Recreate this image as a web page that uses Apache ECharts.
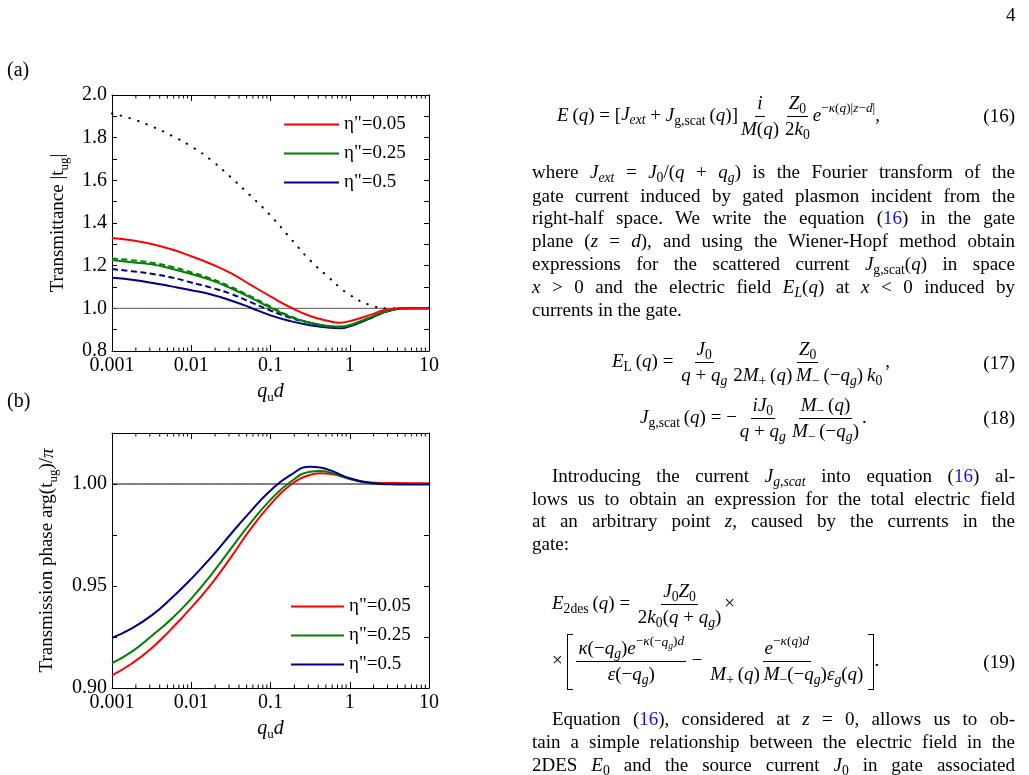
<!DOCTYPE html>
<html>
<head>
<meta charset="utf-8">
<script src="https://cdn.jsdelivr.net/npm/echarts@6/dist/echarts.min.js"></script>
<style>
html,body{margin:0;padding:0;background:#fff;}
#page{position:relative;width:1029px;height:775px;overflow:hidden;}
#chart{position:absolute;left:0;top:0;width:1029px;height:775px;}
.tx{position:absolute;font-family:"Liberation Serif",serif;color:#000;z-index:2;}
.ln{left:532px;width:483px;font-size:19px;line-height:23px;height:23px;text-align:justify;text-align-last:justify;white-space:normal;}
.ln.last{text-align-last:left;}
.ind{text-indent:20px;}
sub{font-size:0.72em;line-height:0;vertical-align:-0.3em;}
sup{font-size:0.7em;line-height:0;vertical-align:0.65em;}
.ref{color:#1010ee;}
.eq{left:532px;width:483px;height:70px;display:flex;align-items:center;font-size:19px;white-space:nowrap;}
.eq .num{margin-left:auto;}
.fr{display:inline-flex;flex-direction:column;align-items:center;vertical-align:middle;line-height:1.2;margin:0 1px;}
.fr>span:first-child{border-bottom:1.3px solid #000;padding:0 2px 1px;}
.fr>span:last-child{padding:1px 2px 0;}
.bl,.br{display:inline-block;width:5px;height:54px;border:1.3px solid #000;vertical-align:middle;}
.bl{border-right:none;margin-right:2px;}
.br{border-left:none;margin-left:2px;}
</style>
</head>
<body>
<div id="page">
<div id="chart"></div>

<div class="tx" style="left:1006px;top:4px;font-size:19px;">4</div>

<!-- (16) -->
<div class="tx eq" style="top:81px;"><span style="padding-left:25px;"><i>E</i>&thinsp;(<i>q</i>) = [<i>J<sub>ext</sub></i> + <i>J</i><sub>g,scat</sub>&thinsp;(<i>q</i>)]<span class="fr"><span><i>i</i></span><span><i>M</i>(<i>q</i>)</span></span><span class="fr"><span><i>Z</i><sub>0</sub></span><span>2<i>k</i><sub>0</sub></span></span><i>e</i><sup>&minus;<i>κ</i>(<i>q</i>)|<i>z</i>&minus;<i>d</i>|</sup>,</span><span class="num">(16)</span></div>

<div class="tx ln" style="top:160px;">where <i>J<sub>ext</sub></i> = <i>J</i><sub>0</sub>/(<i>q</i> + <i>q<sub>g</sub></i>) is the Fourier transform of the</div>
<div class="tx ln" style="top:183.5px;">gate current induced by gated plasmon incident from the</div>
<div class="tx ln" style="top:206px;">right-half space. We write the equation (<span class="ref">16</span>) in the gate</div>
<div class="tx ln" style="top:229px;">plane (<i>z</i> = <i>d</i>), and using the Wiener-Hopf method obtain</div>
<div class="tx ln" style="top:252px;">expressions for the scattered current <i>J</i><sub>g,scat</sub>(<i>q</i>) in space</div>
<div class="tx ln" style="top:274.5px;"><i>x</i> &gt; 0 and the electric field <i>E<sub>L</sub></i>(<i>q</i>) at <i>x</i> &lt; 0 induced by</div>
<div class="tx ln last" style="top:298px;">currents in the gate.</div>

<!-- (17) -->
<div class="tx eq" style="top:327.7px;"><span style="padding-left:80px;"><i>E</i><sub>L</sub>&thinsp;(<i>q</i>) = <span class="fr"><span><i>J</i><sub>0</sub></span><span><i>q</i> + <i>q<sub>g</sub></i></span></span><span class="fr"><span><i>Z</i><sub>0</sub></span><span>2<i>M</i><sub>+</sub>&thinsp;(<i>q</i>)&thinsp;<i>M</i><sub>&minus;</sub>&thinsp;(&minus;<i>q<sub>g</sub></i>)&thinsp;<i>k</i><sub>0</sub></span></span>,</span><span class="num">(17)</span></div>

<!-- (18) -->
<div class="tx eq" style="top:383.3px;"><span style="padding-left:108px;"><i>J</i><sub>g,scat</sub>&thinsp;(<i>q</i>) = &minus;<span class="fr"><span><i>iJ</i><sub>0</sub></span><span><i>q</i> + <i>q<sub>g</sub></i></span></span><span class="fr"><span><i>M</i><sub>&minus;</sub>&thinsp;(<i>q</i>)</span><span><i>M</i><sub>&minus;</sub>&thinsp;(&minus;<i>q<sub>g</sub></i>)</span></span>.</span><span class="num">(18)</span></div>

<div class="tx ln ind" style="top:463.5px;">Introducing the current <i>J<sub>g,scat</sub></i> into equation (<span class="ref">16</span>) al-</div>
<div class="tx ln" style="top:486.5px;">lows us to obtain an expression for the total electric field</div>
<div class="tx ln" style="top:508.5px;">at an arbitrary point <i>z</i>, caused by the currents in the</div>
<div class="tx ln last" style="top:531.5px;">gate:</div>

<!-- (19) -->
<div class="tx eq" style="top:569px;"><span style="padding-left:20px;"><i>E</i><sub>2des</sub>&thinsp;(<i>q</i>) = <span class="fr"><span><i>J</i><sub>0</sub><i>Z</i><sub>0</sub></span><span>2<i>k</i><sub>0</sub>(<i>q</i> + <i>q<sub>g</sub></i>)</span></span>&times;</span></div>
<div class="tx eq" style="top:626.7px;"><span style="padding-left:20px;">&times; <span class="bl"></span><span class="fr"><span><i>κ</i>(&minus;<i>q<sub>g</sub></i>)<i>e</i><sup>&minus;<i>κ</i>(&minus;<i>q<sub>g</sub></i>)<i>d</i></sup></span><span><i>ε</i>(&minus;<i>q<sub>g</sub></i>)</span></span> &minus; <span class="fr"><span><i>e</i><sup>&minus;<i>κ</i>(<i>q</i>)<i>d</i></sup></span><span><i>M</i><sub>+</sub>&thinsp;(<i>q</i>)&thinsp;<i>M</i><sub>&minus;</sub>(&minus;<i>q<sub>g</sub></i>)<i>ε<sub>g</sub></i>(<i>q</i>)</span></span><span class="br"></span>.</span><span class="num">(19)</span></div>

<div class="tx ln ind" style="top:707px;">Equation (<span class="ref">16</span>), considered at <i>z</i> = 0, allows us to ob-</div>
<div class="tx ln" style="top:730px;">tain a simple relationship between the electric field in the</div>
<div class="tx ln" style="top:752.5px;">2DES <i>E</i><sub>0</sub> and the source current <i>J</i><sub>0</sub> in gate associated</div>
</div>

<script>
// 横轴取值 (q_u d)：每 1/4 个数量级一个点，另在极值附近加一个点
const qA = [0.001, 0.00178, 0.00316, 0.00562, 0.01, 0.0178, 0.0316, 0.0562, 0.1,
  0.178, 0.316, 0.562, 0.75, 1, 1.78, 3.16, 5.62, 10];
const qB = [0.001, 0.00178, 0.00316, 0.00562, 0.01, 0.0178, 0.0316, 0.0562, 0.1,
  0.178, 0.316, 0.422, 0.562, 1, 1.78, 3.16, 5.62, 10];

// (a) Transmittance |t_ug|
const redA = [1.330, 1.319, 1.302, 1.277, 1.244, 1.208, 1.165, 1.110, 1.056, 1.005, 0.964, 0.939, 0.933, 0.940, 0.968, 0.996, 1.0, 1.0];
const greenA = [1.226, 1.216, 1.206, 1.186, 1.161, 1.132, 1.094, 1.050, 1.003, 0.960, 0.932, 0.916, 0.914, 0.921, 0.956, 0.990, 1.0, 1.0];
const greenDashA = [1.234, 1.225, 1.214, 1.195, 1.169, 1.139, 1.101, 1.056, 1.008, 0.963, 0.933, 0.916, 0.914, 0.921, 0.956, 0.990, 1.0, 1.0];
const blueA = [1.143, 1.134, 1.120, 1.103, 1.085, 1.065, 1.037, 1.003, 0.967, 0.940, 0.921, 0.909, 0.907, 0.916, 0.952, 0.989, 1.0, 1.0];
const blueDashA = [1.184, 1.174, 1.162, 1.145, 1.121, 1.097, 1.068, 1.029, 0.990, 0.956, 0.932, 0.914, 0.911, 0.917, 0.953, 0.989, 1.0, 1.0];
const dottedA = [1.913, 1.888, 1.853, 1.810, 1.759, 1.695, 1.614, 1.527, 1.435, 1.329, 1.225, 1.140, 1.098, 1.063, 1.016, 1.0, 1.0, 1.0];

// (b) Transmission phase arg(t_ug)/π
const redB = [0.9062, 0.9120, 0.9195, 0.9290, 0.9394, 0.9508, 0.9640, 0.9780, 0.9900, 0.9995, 1.0045, 1.0053, 1.0050, 1.0025, 1.0007, 1.0005, 1.0004, 1.0004];
const greenB = [0.9122, 0.9178, 0.9255, 0.9338, 0.9438, 0.9555, 0.9683, 0.9810, 0.9922, 1.0010, 1.0060, 1.0064, 1.0057, 1.0026, 1.0004, 1.0, 1.0, 1.0];
const blueB = [0.9246, 0.9292, 0.9356, 0.9440, 0.9535, 0.9640, 0.9755, 0.9866, 0.9968, 1.0043, 1.0085, 1.0081, 1.0068, 1.0028, 1.0006, 0.9999, 0.9998, 0.9998];

// 图例名称
const names = ['η"=0.05', 'η"=0.25', 'η"=0.5'];

// 对数轴次刻度位置
const minorQ = [0.002, 0.003, 0.004, 0.005, 0.006, 0.007, 0.008, 0.009,
  0.02, 0.03, 0.04, 0.05, 0.06, 0.07, 0.08, 0.09,
  0.2, 0.3, 0.4, 0.5, 0.6, 0.7, 0.8, 0.9,
  2, 3, 4, 5, 6, 7, 8, 9];

const FONT = 'Liberation Serif';
const RED = '#ff0000', GREEN = '#008000', BLUE = '#000080';

function pairs(xs, ys) {
  return xs.map((x, i) => [x, ys[i]]);
}

function xAxisOf(grid, pos, withName) {
  return {
    type: 'log', logBase: 10, min: 0.001, max: 10, gridIndex: grid, position: pos,
    axisLine: { onZero: false, lineStyle: { color: '#000', width: 1 } },
    axisTick: { inside: true, length: 6, lineStyle: { color: '#000' } },
    axisLabel: {
      show: withName, color: '#000', fontFamily: FONT, fontSize: 20, margin: 5,
      formatter: v => String(parseFloat(Number(v).toPrecision(3)))
    },
    splitLine: { show: false },
    name: withName ? '{i|q}{s|u}{i|d}' : '',
    nameLocation: 'middle', nameGap: 31,
    nameTextStyle: {
      rich: {
        i: { fontFamily: FONT, fontSize: 20, fontStyle: 'italic', color: '#000', lineHeight: 20, verticalAlign: 'top' },
        s: { fontFamily: FONT, fontSize: 13, color: '#000', lineHeight: 13, verticalAlign: 'top', padding: [9, 0, 0, 0] }
      }
    }
  };
}

function yAxisOf(grid, pos, min, max, step, fmt, name, gap) {
  return {
    type: 'value', gridIndex: grid, position: pos, min: min, max: max, interval: step,
    axisLine: { onZero: false, lineStyle: { color: '#000', width: 1 } },
    axisTick: { inside: true, length: 5, lineStyle: { color: '#000' } },
    axisLabel: { show: !!fmt, color: '#000', fontFamily: FONT, fontSize: 20, margin: 5, formatter: fmt || '' },
    splitLine: { show: false },
    name: name || '', nameLocation: 'middle', nameGap: gap || 0,
    nameTextStyle: {
      rich: {
        m: { fontFamily: FONT, fontSize: 19, color: '#000', lineHeight: 19, verticalAlign: 'top' },
        i: { fontFamily: FONT, fontSize: 19, fontStyle: 'italic', color: '#000', lineHeight: 19, verticalAlign: 'top' },
        s: { fontFamily: FONT, fontSize: 13, color: '#000', lineHeight: 13, verticalAlign: 'top', padding: [9, 0, 0, 0] }
      }
    }
  };
}

// idx: 坐标轴下标 (0 = 图 a, 2 = 图 b)
function line(name, idx, data, color, type, width, z) {
  return {
    type: 'line', name: name, xAxisIndex: idx, yAxisIndex: idx, data: data,
    symbol: 'none', smooth: 0.5, z: z || 3,
    lineStyle: { color: color, width: width || 2, type: type || 'solid', cap: Array.isArray(type) && type[0] < 1 ? 'round' : 'butt' },
    itemStyle: { color: color }
  };
}

function minorTicks(idx, ymin, ymax) {
  return {
    type: 'custom', xAxisIndex: idx, yAxisIndex: idx, silent: true, clip: false, z: 6,
    data: minorQ.map(q => [q, ymin]),
    renderItem: (params, api) => {
      const b = api.coord([api.value(0), ymin]);
      const t = api.coord([api.value(0), ymax]);
      return {
        type: 'group', children: [
          { type: 'line', shape: { x1: b[0], y1: b[1], x2: b[0], y2: b[1] - 3.5 }, style: { stroke: '#000', lineWidth: 1 } },
          { type: 'line', shape: { x1: t[0], y1: t[1], x2: t[0], y2: t[1] + 3.5 }, style: { stroke: '#000', lineWidth: 1 } }
        ]
      };
    }
  };
}

const fmtA = v => { const t = Math.round(v * 10); return t % 2 === 0 ? (t / 10).toFixed(1) : ''; };
const fmtB = v => { const t = Math.round(v * 40); return t % 2 === 0 ? (t / 40).toFixed(2) : ''; };

const chart = echarts.init(document.getElementById('chart'), null, { renderer: 'canvas' });

const legendBase = {
  orient: 'vertical', itemHeight: 20, itemGap: 10, data: names,
  itemStyle: { opacity: 0 },
  textStyle: { fontFamily: FONT, fontSize: 19, color: '#000' }, selectedMode: false
};

chart.setOption({
  animation: false,
  backgroundColor: '#fff',
  grid: [
    { left: 112, top: 95, width: 317, height: 256 },
    { left: 112, top: 433, width: 317, height: 255 }
  ],
  xAxis: [
    xAxisOf(0, 'bottom', true), xAxisOf(0, 'top', false),
    xAxisOf(1, 'bottom', true), xAxisOf(1, 'top', false)
  ],
  yAxis: [
    yAxisOf(0, 'left', 0.8, 2.0, 0.1, fmtA, '{m|Transmittance |t}{s|ug}{m||}', 44),
    yAxisOf(0, 'right', 0.8, 2.0, 0.1, null),
    yAxisOf(1, 'left', 0.9, 1.025, 0.025, fmtB, '{m|Transmission phase arg(t}{s|ug}{m|)/}{i|π}', 55),
    yAxisOf(1, 'right', 0.9, 1.025, 0.025, null)
  ],
  legend: [
    Object.assign({ left: 278, top: 110, itemWidth: 55 }, legendBase),
    Object.assign({ left: 285, top: 592, itemWidth: 53 }, legendBase)
  ],
  graphic: [
    { type: 'text', left: 7, top: 61, style: { text: '(a)', font: '20px "Liberation Serif"', fill: '#000' } },
    { type: 'text', left: 7, top: 392, style: { text: '(b)', font: '20px "Liberation Serif"', fill: '#000' } }
  ],
  series: [
    // (a)
    line('ref-a', 0, [[0.001, 1], [10, 1]], '#555', 'solid', 1, 2),
    line('dotted', 0, pairs(qA, dottedA), '#000', [0.5, 8.5], 2),
    line(names[2], 0, pairs(qA, blueA), BLUE),
    line('blue-dash', 0, pairs(qA, blueDashA), BLUE, [6, 3.5]),
    line(names[1], 0, pairs(qA, greenA), GREEN),
    line('green-dash', 0, pairs(qA, greenDashA), GREEN, [6, 3.5]),
    line(names[0], 0, pairs(qA, redA), RED),
    minorTicks(0, 0.8, 2.0),
    // (b)
    line('ref-b', 2, [[0.001, 1], [10, 1]], '#000', 'solid', 1, 2),
    line(names[0], 2, pairs(qB, redB), RED),
    line(names[1], 2, pairs(qB, greenB), GREEN),
    line(names[2], 2, pairs(qB, blueB), BLUE),
    minorTicks(2, 0.9, 1.025)
  ]
});
</script>
</body>
</html>
